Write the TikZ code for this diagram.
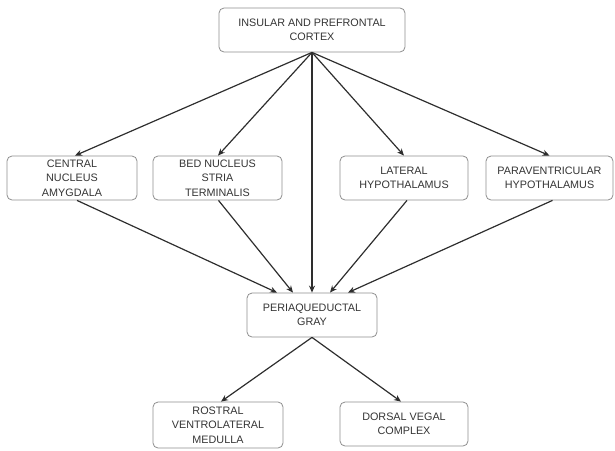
\documentclass[tikz,border=0pt]{standalone}
\usepackage{fontspec}
\setmainfont{Liberation Sans}
\usetikzlibrary{arrows.meta}
\definecolor{txt}{HTML}{353535}
\definecolor{bord}{HTML}{8F8F8F}
\definecolor{arr}{HTML}{2E2E2E}
\tikzset{
  box/.style={draw=bord, line width=0.8pt, rounded corners=5pt, fill=white,
    text=txt, align=center, font=\fontsize{10.8}{14.5}\selectfont,
    inner sep=0pt},
  link/.style={draw=arr, line width=1.2pt, -{Stealth[length=7pt,width=6pt]}}
}
\begin{document}
\begin{tikzpicture}[x=1pt,y=-1pt]
\useasboundingbox (0,0) rectangle (615,450);
\node[box, minimum width=186pt, minimum height=44pt] (ipc) at (312,30) {INSULAR AND PREFRONTAL\\CORTEX};
\node[box, minimum width=130pt, minimum height=44pt] (cna) at (72,178) {CENTRAL\\NUCLEUS\\AMYGDALA};
\node[box, minimum width=129pt, minimum height=44pt] (bnst) at (217.5,178) {BED NUCLEUS\\STRIA\\TERMINALIS};
\node[box, minimum width=128pt, minimum height=44pt] (lh) at (404,178) {LATERAL\\HYPOTHALAMUS};
\node[box, minimum width=127pt, minimum height=44pt] (pvh) at (549.5,178) {PARAVENTRICULAR\\HYPOTHALAMUS};
\node[box, minimum width=130pt, minimum height=44pt] (pag) at (312,315) {PERIAQUEDUCTAL\\GRAY};
\node[box, minimum width=130pt, minimum height=46pt] (rvlm) at (218,425) {ROSTRAL\\VENTROLATERAL\\MEDULLA};
\node[box, minimum width=128pt, minimum height=44pt] (dvc) at (404,424) {DORSAL VEGAL\\COMPLEX};

\draw[link] (ipc.south) -- ([xshift=3pt]cna.north);
\draw[link] (ipc.south) -- ([xshift=0.5pt]bnst.north);
\draw[link] (ipc.south) -- (lh.north);
\draw[link] (ipc.south) -- (pvh.north);
\draw[link] (ipc.south) -- (pag.north);

\draw[link] ([xshift=5pt]cna.south) -- ([xshift=-35pt]pag.north);
\draw[link] ([xshift=1pt]bnst.south) -- ([xshift=-19pt]pag.north);
\draw[link] ([xshift=3pt]lh.south) -- ([xshift=18pt]pag.north);
\draw[link] ([xshift=3pt]pvh.south) -- ([xshift=36pt]pag.north);

\draw[link] (pag.south) -- ([xshift=3pt]rvlm.north);
\draw[link] (pag.south) -- ([xshift=-3pt]dvc.north);
\end{tikzpicture}
\end{document}
